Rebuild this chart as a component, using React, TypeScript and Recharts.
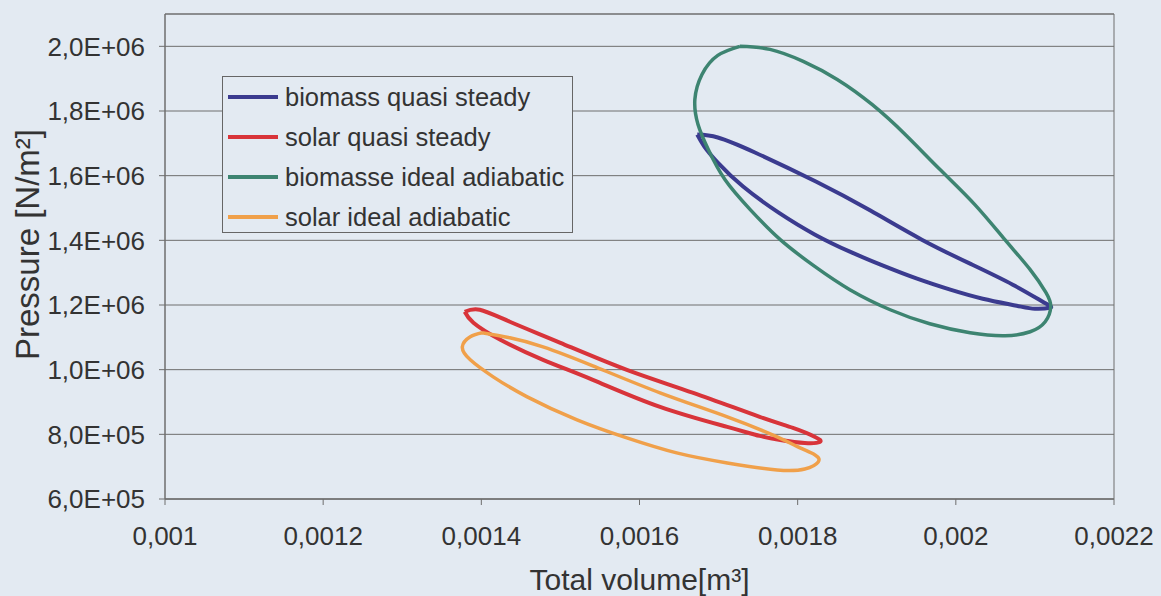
import React from 'react';
import {
  ComposedChart,
  Line,
  XAxis,
  YAxis,
  CartesianGrid,
  ReferenceArea,
  Label,
} from 'recharts';

// axis ticks
const xTicks = [0.001, 0.0012, 0.0014, 0.0016, 0.0018, 0.002, 0.0022];
const xTickLabels = ['0,001', '0,0012', '0,0014', '0,0016', '0,0018', '0,002', '0,0022'];
const yTicks = [600000, 800000, 1000000, 1200000, 1400000, 1600000, 1800000, 2000000];
const yTickLabels = ['6,0E+05', '8,0E+05', '1,0E+06', '1,2E+06', '1,4E+06', '1,6E+06', '1,8E+06', '2,0E+06'];

// biomass quasi steady (closed loop)
const biomassQuasiVolume = [
  0.001673, 0.001699, 0.001746, 0.001823, 0.001892, 0.001957, 0.002018, 0.002072, 0.002112,
  0.002119, 0.0021, 0.002077, 0.002034, 0.001993, 0.001951, 0.001908, 0.001866, 0.001822,
  0.001776, 0.001731, 0.001699, 0.001682, 0.001673,
];
const biomassQuasiPressure = [
  1727000, 1718000, 1671600, 1581700, 1492000, 1402100, 1327800, 1262800, 1207000,
  1191500, 1188400, 1197700, 1219400, 1247300, 1281300, 1321600, 1365000, 1417600,
  1485700, 1566300, 1640600, 1690100, 1727000,
];

// solar quasi steady
const solarQuasiVolume = [
  0.001379, 0.001398, 0.001436, 0.0015, 0.001584, 0.001668, 0.001752, 0.001794, 0.001822,
  0.001828, 0.001809, 0.001778, 0.001752, 0.001711, 0.001626, 0.001541, 0.001478, 0.001424,
  0.00139, 0.001379,
];
const solarQuasiPressure = [
  1179100, 1185300, 1148200, 1083100, 999500, 928300, 854000, 819900, 792000,
  776500, 773400, 782700, 795100, 823000, 884900, 968500, 1030500, 1092400,
  1145100, 1179100,
];

// biomasse ideal adiabatic
const biomassAdiabVolume = [
  0.001727, 0.001699, 0.001679, 0.00167, 0.001674, 0.001687, 0.001708, 0.00174, 0.001778,
  0.001822, 0.001866, 0.001917, 0.001967, 0.002018, 0.002062, 0.002094, 0.002113, 0.00212,
  0.002114, 0.002094, 0.002062, 0.002024, 0.00198, 0.001936, 0.001894, 0.00185, 0.001807,
  0.001765, 0.001727,
];
const biomassAdiabPressure = [
  2000000, 1972000, 1913100, 1835700, 1758300, 1680900, 1588000, 1495000, 1402100,
  1318500, 1247300, 1185300, 1142000, 1114100, 1104800, 1117200, 1148200, 1194600,
  1238000, 1309200, 1402100, 1510500, 1618900, 1727300, 1820200, 1897600, 1953400,
  1990600, 2000000,
];

// solar ideal adiabatic
const solarAdiabVolume = [
  0.001401, 0.001386, 0.001376, 0.001386, 0.001415, 0.001458, 0.001521, 0.001584, 0.001647,
  0.001711, 0.001774, 0.001809, 0.001826, 0.001822, 0.001803, 0.001774, 0.001711, 0.001626,
  0.001541, 0.001478, 0.001436, 0.001401,
];
const solarAdiabPressure = [
  1114100, 1101700, 1070700, 1030500, 977800, 915900, 844700, 788900, 742500,
  711500, 689800, 692900, 714600, 736300, 758000, 792000, 854000, 928300,
  1011900, 1070700, 1098600, 1114100,
];

const zip = (vs: number[], ps: number[]) => vs.map((v, i) => ({ v, p: ps[i] }));

const series = [
  { name: 'biomass quasi steady', color: '#3b3b8f', width: 4, data: zip(biomassQuasiVolume, biomassQuasiPressure) },
  { name: 'solar quasi steady', color: '#d8343a', width: 4, data: zip(solarQuasiVolume, solarQuasiPressure) },
  { name: 'biomasse ideal adiabatic', color: '#3d8471', width: 3.5, data: zip(biomassAdiabVolume, biomassAdiabPressure) },
  { name: 'solar ideal adiabatic', color: '#f0a04a', width: 3.5, data: zip(solarAdiabVolume, solarAdiabPressure) },
];

const BG = '#e3eaf2';
const INK = '#333333';
const FONT = '"Liberation Sans", Arial, sans-serif';

const YTitle = ({ viewBox }: any) => {
  const cy = viewBox.y + viewBox.height / 2 - 12;
  return (
    <text
      x={27}
      y={cy}
      transform={`rotate(-90, 27, ${cy})`}
      textAnchor="middle"
      dominantBaseline="central"
      fill={INK}
      fontSize={33}
      fontFamily={FONT}
    >
      Pressure [N/m²]
    </text>
  );
};

export default function App() {
  return (
    <div style={{ position: 'absolute', left: 0, top: 0, width: 1161, height: 596, background: BG, fontFamily: FONT }}>
      <ComposedChart
        width={1161}
        height={596}
        margin={{ top: 14, right: 47, bottom: 0, left: 0 }}
      >
        <CartesianGrid vertical={false} stroke="#6e6e6e" strokeWidth={1} />
        <XAxis
          type="number"
          dataKey="v"
          domain={[0.001, 0.0022]}
          ticks={xTicks}
          allowDataOverflow
          height={97}
          stroke="#6e6e6e"
          tickSize={6}
          tickMargin={22}
          tick={{ fill: INK, fontSize: 26, fontFamily: FONT }}
          tickFormatter={(v: number) => xTickLabels[xTicks.indexOf(v)] ?? ''}
        >
          <Label value="Total volume[m³]" position="insideBottom" offset={6} fill={INK} fontSize={30} fontFamily={FONT} />
        </XAxis>
        <YAxis
          type="number"
          domain={[600000, 2100000]}
          ticks={yTicks}
          allowDataOverflow
          width={165}
          stroke="#6e6e6e"
          tickSize={6}
          tickMargin={14}
          tick={{ fill: INK, fontSize: 26, fontFamily: FONT }}
          tickFormatter={(v: number) => yTickLabels[yTicks.indexOf(v)] ?? ''}
        >
          <Label content={YTitle} />
        </YAxis>
        <ReferenceArea x1={0.001} x2={0.0022} y1={600000} y2={2100000} fill="none" stroke="#6e6e6e" strokeWidth={1} />
        {series.map((s) => (
          <Line
            key={s.name}
            data={s.data}
            dataKey="p"
            type="natural"
            stroke={s.color}
            strokeWidth={s.width}
            strokeLinejoin="round"
            dot={false}
            activeDot={false}
            isAnimationActive={false}
          />
        ))}
      </ComposedChart>
      <div
        style={{
          position: 'absolute',
          left: 222,
          top: 76,
          width: 349,
          height: 155,
          border: '1px solid #666',
          background: BG,
        }}
      >
        {series.map((s) => (
          <div key={s.name} style={{ display: 'flex', alignItems: 'center', height: 40 }}>
            <div style={{ width: 50, height: 4, background: s.color, marginLeft: 5, marginRight: 7 }} />
            <span style={{ fontSize: 25.5, color: INK, whiteSpace: 'nowrap' }}>{s.name}</span>
          </div>
        ))}
      </div>
    </div>
  );
}
